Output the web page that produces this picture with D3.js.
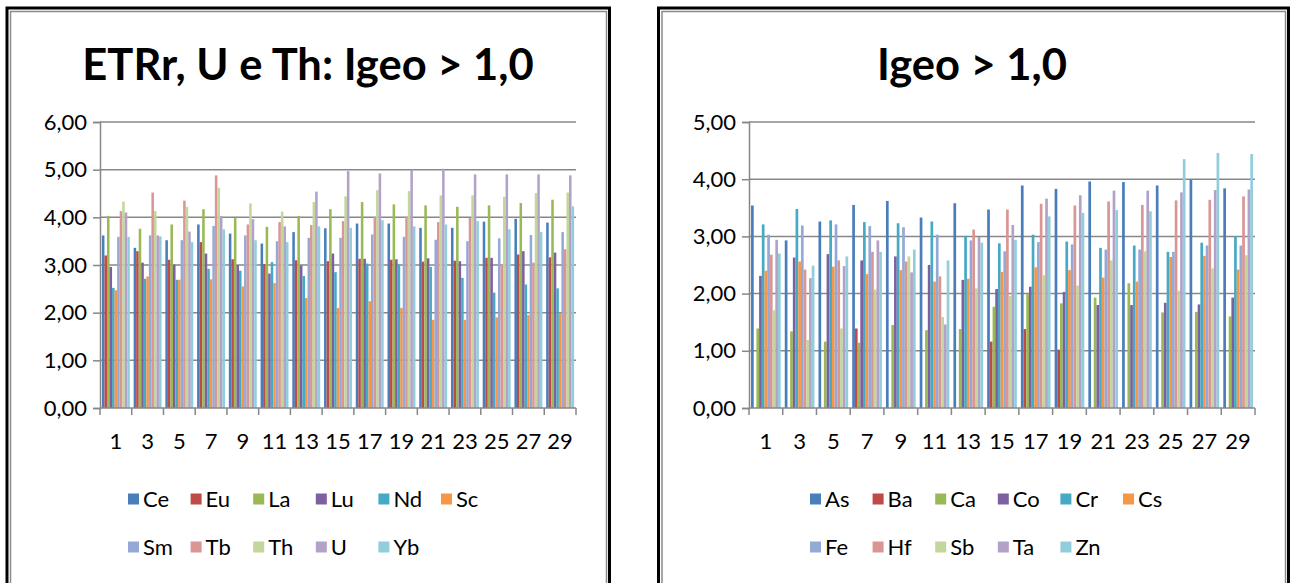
<!DOCTYPE html>
<html>
<head>
<meta charset="utf-8">
<script src="https://cdn.jsdelivr.net/npm/d3@7"></script>
<style>
  html, body { margin: 0; padding: 0; background: #fff; }
  svg { display: block; font-family: Lato, "Open Sans", sans-serif; }
</style>
</head>
<body>
<svg id="chart" width="1295" height="583"></svg>
<script>
// Sample points (odd-numbered sites)
const categories = ["1","3","5","7","9","11","13","15","17","19","21","23","25","27","29"];

// Left panel: rare earth elements, U and Th (Igeo)
const reeNames = ["Ce","Eu","La","Lu","Nd","Sc","Sm","Tb","Th","U","Yb"];
const Ce = [3.62,3.36,3.52,3.85,3.66,3.45,3.69,3.77,3.87,3.87,3.78,3.78,3.91,3.97,3.89];
const Eu = [3.20,3.29,3.11,3.48,3.12,3.02,3.10,3.08,3.13,3.11,3.07,3.09,3.15,3.22,3.16];
const La = [4.03,3.76,3.85,4.17,3.99,3.80,4.03,4.17,4.32,4.27,4.25,4.22,4.25,4.30,4.37];
const Lu = [2.96,3.05,3.01,3.24,3.00,2.82,2.99,3.24,3.13,3.12,3.14,3.08,3.15,3.29,3.26];
const Nd = [2.52,2.71,2.69,2.92,2.88,3.06,2.77,2.85,3.03,3.01,2.96,2.73,2.42,2.59,2.51];
const Sc = [2.47,2.76,2.69,2.70,2.55,2.62,2.31,2.10,2.24,2.10,1.85,1.85,1.90,1.95,1.99];
const Sm = [3.59,3.62,3.52,3.82,3.62,3.50,3.57,3.57,3.64,3.59,3.53,3.50,3.56,3.63,3.69];
const Tb = [4.13,4.52,4.35,4.88,3.85,3.90,3.84,3.92,4.01,4.01,3.90,3.99,3.01,3.05,3.33];
const Th = [4.33,4.13,4.22,4.62,4.29,4.12,4.32,4.44,4.57,4.55,4.46,4.46,4.43,4.51,4.52];
const U  = [4.10,3.62,3.70,4.03,3.96,3.81,4.54,4.97,4.92,5.00,5.02,4.90,4.90,4.90,4.88];
const Yb = [3.59,3.60,3.48,3.75,3.52,3.48,3.81,3.78,3.94,3.81,3.85,3.92,3.75,3.69,4.23];
const reeTicks = [0,1,2,3,4,5,6];

// Right panel: other elements (Igeo); null = no bar
const elemNames = ["As","Ba","Ca","Co","Cr","Cs","Fe","Hf","Sb","Ta","Zn"];
const As = [3.54,2.93,3.26,3.55,3.62,3.33,3.58,3.47,3.89,3.83,3.96,3.95,3.89,3.99,3.84];
const Ba = [null,null,null,1.39,null,null,null,1.16,1.38,1.02,null,null,null,null,null];
const Ca = [1.39,1.34,1.16,1.14,1.45,1.36,1.38,1.77,1.99,1.83,1.93,2.18,1.67,1.68,1.60];
const Co = [2.31,2.63,2.69,2.58,2.65,2.50,2.24,2.08,2.12,2.03,1.80,1.80,1.84,1.81,1.93];
const Cr = [3.21,3.48,3.28,3.25,3.23,3.26,3.01,2.88,3.03,2.91,2.80,2.84,2.73,2.89,3.00];
const Cs = [2.40,2.56,2.47,2.34,2.41,2.21,2.26,2.38,2.46,2.41,2.28,2.21,2.64,2.66,2.42];
const Fe = [3.03,3.19,3.21,3.18,3.16,3.03,2.93,2.74,2.90,2.86,2.77,2.77,2.73,2.84,2.84];
const Hf = [2.68,2.42,2.58,2.73,2.56,2.30,3.12,3.47,3.57,3.54,3.61,3.55,3.63,3.64,3.70];
const Sb = [1.71,1.19,1.39,2.07,2.65,1.59,2.09,1.96,2.32,2.14,2.58,2.74,2.05,2.44,2.67];
const Ta = [2.94,2.27,2.48,2.93,2.37,1.46,2.99,3.20,3.66,3.72,3.80,3.80,3.77,3.81,3.82];
const Zn = [2.70,2.49,2.65,2.73,2.77,2.58,2.89,2.94,3.35,3.41,3.46,3.44,4.35,4.46,4.44];
const elemTicks = [0,1,2,3,4,5];

const palette = ["#4A7EBB","#BE4B48","#98B954","#7D60A0","#46AAC5","#F79646",
                 "#95A9D6","#D99694","#C3D69B","#B3A2C7","#92CDDC"];

const locale = d3.formatLocale({decimal: ",", thousands: ".", grouping: [3], currency: ["", ""]});
const fmt = locale.format(".2f");

const svg = d3.select("#chart");

function drawPanel(cfg) {
  const g = svg.append("g");

  // frame: heavy black outline with a thin grey chart-area border inside
  g.append("rect")
    .attr("x", cfg.frame[0]).attr("y", cfg.frame[1])
    .attr("width", cfg.frame[2] - cfg.frame[0]).attr("height", cfg.frame[3] - cfg.frame[1])
    .attr("fill", "#fff").attr("stroke", "#000").attr("stroke-width", 3);
  g.append("rect")
    .attr("x", cfg.frame[0] + 3.5).attr("y", cfg.frame[1] + 3.5)
    .attr("width", cfg.frame[2] - cfg.frame[0] - 6.5).attr("height", cfg.frame[3] - cfg.frame[1] - 7)
    .attr("fill", "none").attr("stroke", "#8a8a8a").attr("stroke-width", 1.5);

  // title
  g.append("text")
    .attr("x", cfg.titleX).attr("y", 80)
    .attr("text-anchor", "middle")
    .attr("font-weight", "bold").attr("font-size", 43.5)
    .attr("fill", "#000")
    .text(cfg.title);

  const x = d3.scaleBand().domain(categories).range([cfg.left, cfg.right])
    .paddingInner(0.12).paddingOuter(0.06);
  const xs = d3.scaleBand().domain(cfg.names).range([0, x.bandwidth()]);
  const y = d3.scaleLinear().domain([0, d3.max(cfg.ticks)]).range([408, 122]);

  // horizontal gridlines
  g.append("g").selectAll("line").data(cfg.ticks.filter(t => t > 0)).join("line")
    .attr("x1", cfg.left).attr("x2", cfg.right)
    .attr("y1", d => y(d)).attr("y2", d => y(d))
    .attr("stroke", "#878787").attr("stroke-width", 1.5);

  // bars
  const rows = [];
  cfg.series.forEach((vals, si) => {
    vals.forEach((v, ci) => {
      if (v != null) rows.push({cat: categories[ci], name: cfg.names[si], v, si});
    });
  });
  g.append("g").selectAll("rect").data(rows).join("rect")
    .attr("x", d => x(d.cat) + xs(d.name))
    .attr("width", xs.bandwidth())
    .attr("y", d => y(d.v))
    .attr("height", d => y(0) - y(d.v))
    .attr("fill", d => palette[d.si]);

  // y axis
  const yAxis = g.append("g").attr("transform", `translate(${cfg.left},0)`)
    .call(d3.axisLeft(y).tickValues(cfg.ticks).tickFormat(fmt).tickSize(7).tickPadding(6));
  yAxis.select(".domain").attr("stroke", "#878787").attr("stroke-width", 1.5);
  yAxis.selectAll(".tick line").attr("stroke", "#878787").attr("stroke-width", 1.5);
  yAxis.selectAll(".tick text").attr("font-size", 22).attr("font-family", "Lato").attr("fill", "#000");

  // x axis: baseline, boundary ticks, labels
  const xa = g.append("g");
  xa.append("line").attr("x1", cfg.left).attr("x2", cfg.right)
    .attr("y1", y(0)).attr("y2", y(0)).attr("stroke", "#878787").attr("stroke-width", 1.5);
  const bounds = categories.map(c => x(c) - x.step() * x.paddingInner() / 2).concat([cfg.right]);
  xa.selectAll("line.tk").data(bounds).join("line").attr("class", "tk")
    .attr("x1", d => d).attr("x2", d => d)
    .attr("y1", y(0)).attr("y2", y(0) + 7)
    .attr("stroke", "#878787").attr("stroke-width", 1.5);
  xa.selectAll("text").data(categories).join("text")
    .attr("x", d => x(d) + x.bandwidth() / 2).attr("y", 449)
    .attr("text-anchor", "middle").attr("font-size", 22).attr("fill", "#000")
    .text(d => d);

  // legend: two rows
  const lg = g.append("g");
  cfg.names.forEach((n, i) => {
    const row = i < 6 ? 0 : 1;
    const col = i < 6 ? i : i - 6;
    const lx = cfg.legendX + col * 62.6;
    const ly = row === 0 ? 499 : 547;
    lg.append("rect").attr("x", lx).attr("y", ly - 5.5).attr("width", 11).attr("height", 11)
      .attr("fill", palette[i]);
    lg.append("text").attr("x", lx + 15).attr("y", ly + 8)
      .attr("font-size", 22).attr("fill", "#000").text(n);
  });
}

drawPanel({
  frame: [7, 8, 609.5, 590],
  title: "ETRr, U e Th: Igeo > 1,0",
  titleX: 308,
  left: 100, right: 576,
  names: reeNames,
  series: [Ce, Eu, La, Lu, Nd, Sc, Sm, Tb, Th, U, Yb],
  ticks: reeTicks,
  legendX: 128
});

drawPanel({
  frame: [658.5, 8, 1288.5, 590],
  title: "Igeo > 1,0",
  titleX: 972,
  left: 749, right: 1255,
  names: elemNames,
  series: [As, Ba, Ca, Co, Cr, Cs, Fe, Hf, Sb, Ta, Zn],
  ticks: elemTicks,
  legendX: 810
});
</script>
</body>
</html>
